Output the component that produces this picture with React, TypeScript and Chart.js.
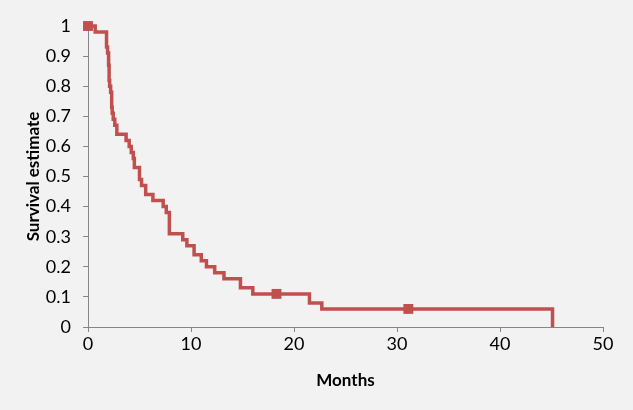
import React, { useEffect, useRef } from "react";
import { Chart, registerables } from "chart.js";

Chart.register(...registerables);

// Kaplan-Meier step points: time (months) and survival estimate
const times = [0, 0.7, 1.8, 1.9, 2.0, 2.05, 2.1, 2.2, 2.3, 2.35, 2.45, 2.6, 2.8, 3.7, 4.0, 4.2, 4.4, 4.5, 5.0, 5.2, 5.6, 6.3, 7.3, 7.6, 7.9, 9.2, 9.6, 10.3, 11.0, 11.5, 12.3, 13.2, 14.8, 16.0, 21.5, 22.7, 45.1];
const survival = [1.0, 0.98, 0.93, 0.91, 0.87, 0.82, 0.8, 0.78, 0.73, 0.71, 0.69, 0.67, 0.64, 0.62, 0.6, 0.58, 0.56, 0.53, 0.49, 0.47, 0.44, 0.42, 0.4, 0.38, 0.31, 0.29, 0.27, 0.24, 0.22, 0.2, 0.18, 0.16, 0.13, 0.11, 0.08, 0.06, 0.0];

// Censored observations (markers)
const censorTimes = [0, 18.3, 31.1];
const censorSurvival = [1.0, 0.11, 0.06];

const xTicks = [0, 10, 20, 30, 40, 50];
const yTicks = [0, 0.1, 0.2, 0.3, 0.4, 0.5, 0.6, 0.7, 0.8, 0.9, 1];

const RED = "#c0504d";
const AXIS = "#868686";

export default function App() {
  const ref = useRef<HTMLCanvasElement | null>(null);
  useEffect(() => {
    if (!ref.current) return;
    const font = "Lato, 'Open Sans', sans-serif";
    const chart = new Chart(ref.current, {
      type: "line",
      data: {
        datasets: [
          {
            label: "KM",
            data: times.map((t, i) => ({ x: t, y: survival[i] })),
            stepped: "before",
            borderColor: RED,
            borderWidth: 3.5,
            pointRadius: 0,
            fill: false,
            clip: false as any,
          },
          {
            label: "Censored",
            type: "scatter" as any,
            data: censorTimes.map((t, i) => ({ x: t, y: censorSurvival[i] })),
            pointStyle: "rect",
            pointRadius: 7,
            backgroundColor: RED,
            borderColor: RED,
            borderWidth: 0,
            showLine: false,
            clip: false as any,
          },
        ],
      },
      options: {
        animation: false,
        responsive: false,
        maintainAspectRatio: false,
        layout: { padding: { top: 26, right: 30, left: 0, bottom: 0 } },
        plugins: { legend: { display: false }, tooltip: { enabled: false } },
        scales: {
          x: {
            type: "linear",
            min: 0,
            max: 50,
            afterBuildTicks: (s: any) => {
              s.ticks = xTicks.map((v) => ({ value: v }));
            },
            afterFit: (s: any) => {
              s.height = 83;
            },
            ticks: {
              color: "#000",
              font: { family: font, size: 18 },
              padding: 1,
              maxRotation: 0,
            },
            grid: {
              drawOnChartArea: false,
              drawTicks: true,
              tickLength: 5,
              color: AXIS,
            },
            border: { color: AXIS, width: 1 },
            title: {
              display: true,
              text: "Months",
              color: "#000",
              font: { family: font, size: 17, weight: "bold" },
              padding: { top: 0, bottom: 19 },
            },
          },
          y: {
            type: "linear",
            min: 0,
            max: 1,
            afterBuildTicks: (s: any) => {
              s.ticks = yTicks.map((v) => ({ value: v }));
            },
            afterFit: (s: any) => {
              s.width = 88;
            },
            ticks: {
              color: "#000",
              font: { family: font, size: 18 },
              padding: 12,
              callback: (v: any) => String(Number(Number(v).toFixed(1))),
            },
            grid: {
              drawOnChartArea: false,
              drawTicks: true,
              tickLength: 5,
              color: AXIS,
            },
            border: { color: AXIS, width: 1 },
            title: {
              display: true,
              text: "Survival estimate",
              color: "#000",
              font: { family: font, size: 17, weight: "bold" },
              padding: { top: 23, bottom: 0 },
            },
          },
        },
      },
    });
    return () => chart.destroy();
  }, []);
  return (
    <div
      style={{
        position: "fixed",
        left: 0,
        top: 0,
        width: 633,
        height: 410,
        background: "#f2f2f2",
      }}
    >
      <canvas ref={ref} width={633} height={410} style={{ display: "block" }} />
    </div>
  );
}
